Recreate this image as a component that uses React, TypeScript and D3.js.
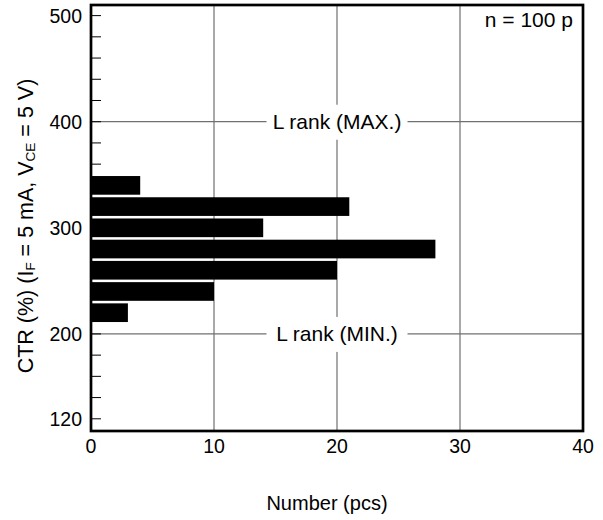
import React from "react";
import * as d3 from "d3";

const binCenters = [340, 320, 300, 280, 260, 240, 220];
const counts = [4, 21, 14, 28, 20, 10, 3];
const yTickValues = d3.range(120, 501, 20);
const yTickLabels = [500, 400, 300, 200, 120];
const xTickLabels = [0, 10, 20, 30, 40];
const xGrid = [10, 20, 30];
const rankLines = [
  { value: 400, label: "L rank (MAX.)" },
  { value: 200, label: "L rank (MIN.)" },
];
const sampleNote = "n = 100 p";

const W = 603;
const H = 520;
const L = 91, R = 583, T = 5, B = 431;
const FONT = "'Liberation Sans', Arial, Helvetica, sans-serif";

export default function App() {
  const x = d3.scaleLinear().domain([0, 40]).range([L, R]);
  const y = d3.scaleLinear().domain([108.5, 510]).range([B, T]);
  const halfBin = 8.8;
  const gridColor = "#707070";

  return (
    <svg width={W} height={H} style={{ position: "absolute", left: 0, top: 0, background: "#fff" }} fontFamily={FONT}>
      <rect x={0} y={0} width={W} height={H} fill="#fff" />
      {xGrid.map((v) => (
        <line key={"gx" + v} x1={x(v)} x2={x(v)} y1={T} y2={B} stroke={gridColor} strokeWidth={1.2} />
      ))}
      {rankLines.map((r) => (
        <line key={"gy" + r.value} x1={L} x2={R} y1={y(r.value)} y2={y(r.value)} stroke={gridColor} strokeWidth={1.2} />
      ))}
      {yTickValues.map((v) => (
        <line key={"yt" + v} x1={L} x2={L + 10} y1={y(v)} y2={y(v)} stroke="#000" strokeWidth={1} />
      ))}
      {binCenters.map((c, i) => (
        <rect
          key={"b" + c}
          x={x(0)}
          y={y(c + halfBin)}
          width={x(counts[i]) - x(0)}
          height={y(c - halfBin) - y(c + halfBin)}
          fill="#000"
        />
      ))}
      {rankLines.map((r) => (
        <g key={"rl" + r.value}>
          <rect x={x(20) - 70.5} y={y(r.value) - 17} width={141} height={35} fill="#fff" />
          <text x={x(20)} y={y(r.value) + 7.5} textAnchor="middle" fontSize={21} fill="#000">
            {r.label}
          </text>
        </g>
      ))}
      <text x={R - 10} y={27} textAnchor="end" fontSize={21} fill="#000">{sampleNote}</text>
      <rect x={L} y={T} width={R - L} height={B - T} fill="none" stroke="#000" strokeWidth={2.7} />
      {yTickLabels.map((v) => (
        <text key={"yl" + v} x={82} y={y(v) + 7} textAnchor="end" fontSize={19.5} fill="#000">{v}</text>
      ))}
      {xTickLabels.map((v) => (
        <text key={"xl" + v} x={x(v)} y={453} textAnchor="middle" fontSize={19.5} fill="#000">{v}</text>
      ))}
      <text x={x(20) - 10} y={510} textAnchor="middle" fontSize={20} fill="#000">Number (pcs)</text>
      <text transform="translate(33,226) rotate(-90)" textAnchor="middle" fontSize={21.5} fill="#000">
        CTR (%) (I
        <tspan fontSize={13.5} dy={2}>F</tspan>
        <tspan dy={-2}> = 5 mA, V</tspan>
        <tspan fontSize={13.5} dy={2}>CE</tspan>
        <tspan dy={-2}> = 5 V)</tspan>
      </text>
    </svg>
  );
}
